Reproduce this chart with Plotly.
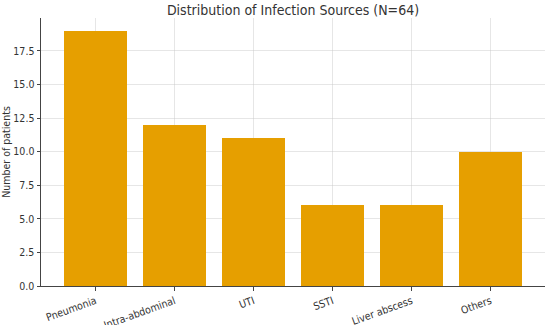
import plotly.graph_objects as go

categories = ["Pneumonia", "Intra-abdominal", "UTI", "SSTI", "Liver abscess", "Others"]
patients = [19, 12, 11, 6, 6, 10]
y_ticks = [0.0, 2.5, 5.0, 7.5, 10.0, 12.5, 15.0, 17.5]
y_tick_text = [f"{v:.1f}" for v in y_ticks]

FONT = "DejaVu Sans Condensed, DejaVu Sans, sans-serif"

fig = go.Figure(go.Bar(
    x=list(range(len(categories))), y=patients,
    width=0.8, marker=dict(color="#E69F00", line=dict(width=0)),
))

fig.update_layout(
    width=550, height=325,
    margin=dict(l=41, r=5, t=18, b=39, autoexpand=False),
    plot_bgcolor="white", paper_bgcolor="white",
    font=dict(family=FONT, color="#333333", size=10.5),
    title=dict(text="Distribution of Infection Sources (N=64)", x=0.5, xanchor="center",
               xref="paper", y=1 - 10.5 / 325, yanchor="middle",
               font=dict(size=14, color="#333333")),
    showlegend=False,
    bargap=0,
)
fig.update_xaxes(
    range=[-0.69, 5.69], tickmode="array", tickvals=list(range(len(categories))),
    ticktext=categories, tickangle=-20, automargin=False,
    showgrid=True, gridcolor="rgba(200,200,200,0.45)", gridwidth=0.8,
    showline=True, linecolor="#444444", linewidth=1,
    ticks="outside", ticklen=4, tickcolor="#444444",
    layer="above traces", zeroline=False,
)
fig.update_yaxes(
    range=[0, 19.95], tickmode="array", tickvals=y_ticks, ticktext=y_tick_text,
    automargin=False,
    showgrid=True, gridcolor="rgba(200,200,200,0.45)", gridwidth=0.8,
    showline=True, linecolor="#444444", linewidth=1,
    ticks="outside", ticklen=3.5, tickcolor="#444444",
    title=dict(text="Number of patients", font=dict(size=10.5), standoff=6),
    layer="above traces", zeroline=False,
)

fig.write_html("out.html", config={"displayModeBar": False},
               post_script="document.body.style.margin='0';document.body.style.overflow='hidden';")
